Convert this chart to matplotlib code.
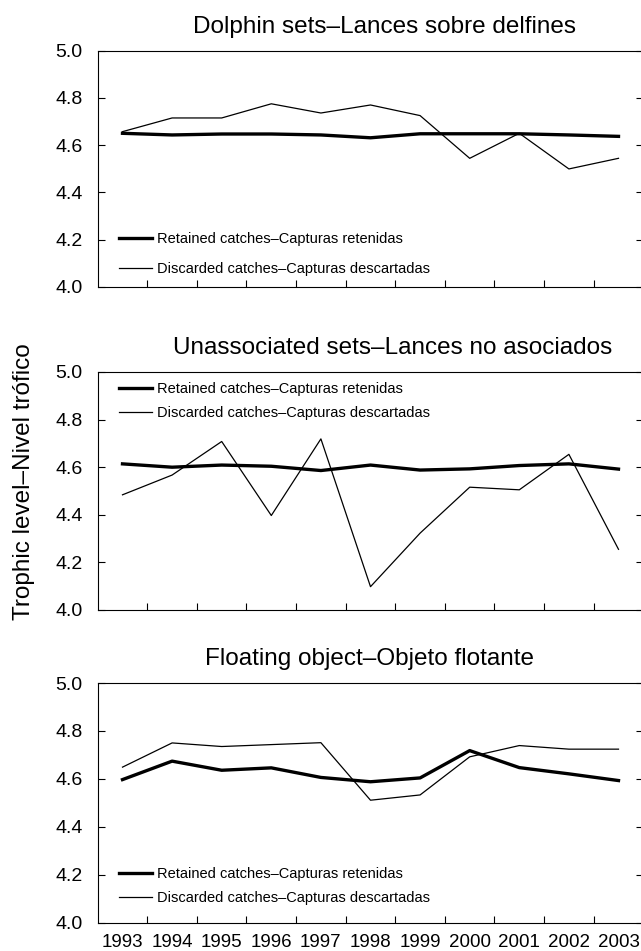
import numpy as np
import matplotlib.pyplot as plt

plt.rcParams['font.family'] = ['Liberation Sans', 'DejaVu Sans']

years = ['1993', '1994', '1995', '1996', '1997', '1998', '1999', '2000', '2001', '2002', '2003']

# Dolphin sets
dol_ret = [4.650, 4.643, 4.647, 4.647, 4.643, 4.631, 4.648, 4.648, 4.648, 4.643, 4.637]
dol_dis = [4.657, 4.715, 4.715, 4.775, 4.736, 4.770, 4.725, 4.544, 4.650, 4.499, 4.544]

# Unassociated sets
una_ret = [4.614, 4.600, 4.609, 4.604, 4.586, 4.609, 4.588, 4.593, 4.607, 4.614, 4.592]
una_dis = [4.484, 4.567, 4.708, 4.397, 4.719, 4.098, 4.323, 4.516, 4.505, 4.654, 4.255]

# Floating object
flo_ret = [4.597, 4.674, 4.636, 4.646, 4.606, 4.588, 4.604, 4.718, 4.647, 4.621, 4.593]
flo_dis = [4.649, 4.750, 4.735, 4.743, 4.751, 4.511, 4.533, 4.692, 4.739, 4.724, 4.724]

titles = ['Dolphin sets\u2013Lances sobre delfines',
          'Unassociated sets\u2013Lances no asociados',
          'Floating object\u2013Objeto flotante']
lab_ret = 'Retained catches\u2013Capturas retenidas'
lab_dis = 'Discarded catches\u2013Capturas descartadas'

fig = plt.figure(figsize=(6.41, 9.51), dpi=100)

W, H = 641, 951
left_px, right_px = 97.7, 643.3
# (top, bottom) of each panel in pixels
panels = [(50.7, 286.7), (372, 610), (683, 922.7)]
title_x = [0.525, 0.541, 0.498]
leg_loc = ['lower left', 'upper left', 'lower left']
leg_anchor = [(0.02, 0.0), (0.02, 1.0), (0.02, 0.03)]
leg_space = [1.1, 0.7, 0.7]
data = [(dol_ret, dol_dis), (una_ret, una_dis), (flo_ret, flo_dis)]

x = np.arange(len(years))

for i, (top, bot) in enumerate(panels):
    ax = fig.add_axes([left_px / W, (H - bot) / H, (right_px - left_px) / W, (bot - top) / H])
    ret, dis = data[i]
    ax.plot(x, ret, color='black', lw=2.4, label=lab_ret)
    ax.plot(x, dis, color='black', lw=0.9, label=lab_dis)
    ax.set_xlim(-0.5, 10.5)
    ax.set_ylim(4.0, 5.0)
    yt = np.arange(4.0, 5.01, 0.2)
    ax.set_yticks(yt)
    ax.set_yticklabels(['%.1f' % v for v in yt], fontsize=14)
    ax.tick_params(axis='y', left=True, right=True, labelleft=True, direction='in', length=5, width=0.8, pad=11)
    ax.set_xticks(x[:-1] + 0.5)
    ax.set_xticklabels([])
    ax.tick_params(axis='x', which='major', direction='in', length=5, width=0.8)
    if i == 2:
        ax.set_xticks(x, minor=True)
        ax.set_xticklabels(years, minor=True, fontsize=13.5)
        ax.tick_params(axis='x', which='minor', length=0, pad=8)
    for s in ax.spines.values():
        s.set_linewidth(0.8)
    ax.set_title(titles[i], fontsize=17.5, x=title_x[i], pad=13)
    ax.legend(loc=leg_loc[i], bbox_to_anchor=leg_anchor[i], frameon=False, fontsize=10.5,
              handlelength=2.3, handletextpad=0.3, labelspacing=leg_space[i], borderaxespad=0.3)

fig.text(0.038, 0.494, 'Trophic level\u2013Nivel tr\u00f3fico', rotation=90, ha='center', va='center', fontsize=17.5)

fig.savefig('out.png', dpi=100)
